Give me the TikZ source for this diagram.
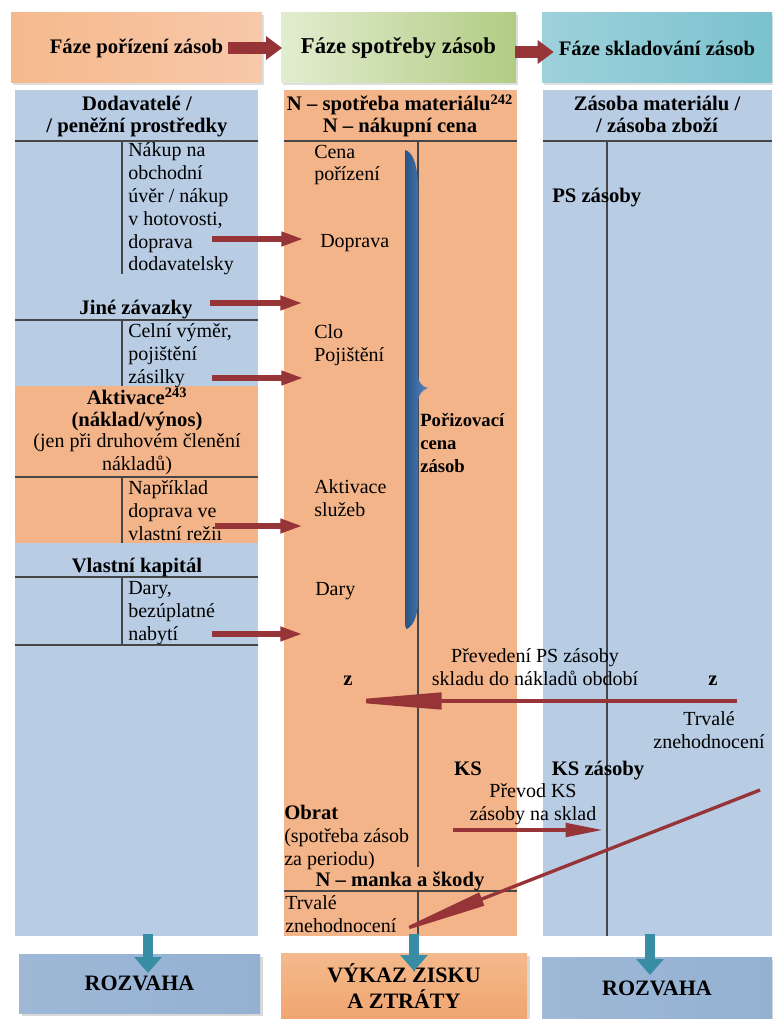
\documentclass[tikz,border=0pt]{standalone}
\usepackage{fontspec}
\setmainfont{Liberation Serif}
\usetikzlibrary{positioning,fit,shadows,arrows.meta}
\definecolor{pblue}{RGB}{184,204,228}
\definecolor{porange}{RGB}{243,180,138}
\definecolor{ared}{RGB}{150,52,56}
\definecolor{ateal}{RGB}{56,140,163}
\definecolor{lgrid}{RGB}{70,70,70}
\definecolor{ha}{RGB}{245,185,140}\definecolor{hb}{RGB}{252,228,214}\definecolor{hc}{RGB}{248,200,170}
\definecolor{ga}{RGB}{226,237,208}\definecolor{gb}{RGB}{214,229,190}\definecolor{gc}{RGB}{178,204,132}
\definecolor{ta}{RGB}{158,209,219}\definecolor{tb}{RGB}{218,238,243}\definecolor{tc}{RGB}{122,194,206}
\definecolor{ba}{RGB}{158,184,214}\definecolor{bb}{RGB}{220,230,240}\definecolor{bc}{RGB}{148,177,211}
\definecolor{oa}{RGB}{244,185,140}\definecolor{ob}{RGB}{233,142,80}\definecolor{oc}{RGB}{240,165,112}
\definecolor{ka}{RGB}{42,82,132}\definecolor{kb}{RGB}{86,134,192}
\tikzset{
  ph/.style={rectangle, inner sep=0pt, minimum height=52.5pt, font=\fontsize{15.5}{18}\selectfont\bfseries, drop shadow={opacity=.25, shadow xshift=1.5pt, shadow yshift=-1.5pt}},
  pn/.style={rectangle, inner sep=0pt, draw=none},
  tx/.style={anchor=base west, inner sep=0pt, align=left, font=\fontsize{15}{17.1}\selectfont},
  tm/.style={anchor=base, inner sep=0pt, align=center, font=\fontsize{15}{17.1}\selectfont},
  bd/.style={anchor=base, inner sep=0pt, align=center, font=\fontsize{15.5}{16.5}\selectfont\bfseries},
  ln/.style={draw=lgrid, line width=0.8pt},
  ar/.style={draw=ared, line width=4.5pt, -{Triangle[length=17pt,width=10pt]}},
  hr/.style={draw=ared, line width=9pt, -{Triangle[length=12pt,width=17pt]}},
  dn/.style={draw=ateal, line width=8pt, -{Triangle[length=12pt,width=20pt]}},
  rs/.style={rectangle, inner sep=0pt, align=center, font=\fontsize{16.5}{20}\selectfont\bfseries, drop shadow={opacity=.3, shadow xshift=2pt, shadow yshift=-2pt}}
}
\begin{document}
\begin{tikzpicture}[x=0.75pt, y=-0.75pt]
\useasboundingbox (0,0) rectangle (772,1019);
\node[ph, minimum width=188.25pt, left color=ha, middle color=hb, right color=hc] (h1) at (136.5,48) {Fáze pořízení zásob};
\node[ph, minimum width=176.25pt, font=\fontsize{17}{20}\selectfont\bfseries, left color=ga, middle color=gb, right color=gc] (h2) at (398.5,48) {Fáze spotřeby zásob};
\node[ph, minimum width=172.5pt, left color=ta, middle color=tb, right color=tc] (h3) at (657,48) {Fáze skladování zásob};
\path ([xshift=-25.5pt]h1.east) edge[hr] ([xshift=1pt]h2.west)
([xshift=-1pt,yshift=-3pt]h2.east) edge[hr] ([xshift=9pt,yshift=-3pt]h3.west);
\node[pn, fill=pblue, fit={(15,90) (258,936)}] (p1) {};
\node[pn, fill=porange, fit={(284,90) (517,936)}] (p2) {};
\node[pn, fill=pblue, fit={(543,90) (772,936)}] (p3) {};
\node[pn, fill=porange, fit={(15,386) (258,543)}] (p1a) {};
\draw[ln] (15,141) -- (258,141) (122,141) -- (122,274)
(15,320) -- (258,320) (122,320) -- (122,386)
(15,477) -- (258,477) (122,477) -- (122,543)
(15,577) -- (258,577) (122,577) -- (122,645) (15,645) -- (258,645);
\draw[ln] (284,141) -- (517,141) (418,141) -- (418,867) (418,892) -- (418,936) (284,891) -- (517,891);
\draw[ln] (543,141) -- (772,141) (607,141) -- (607,936);
\shade[left color=ka, right color=kb] (405,150) .. controls (413,152) and (418,165) .. (418,190) -- (418,372) .. controls (418,383) and (422,387) .. (428,388) .. controls (422,390) and (418,394) .. (418,405) -- (418,600) .. controls (418,615) and (414,625) .. (407,629) .. controls (405,629) and (405,625) .. (405,615) -- cycle;
\node[bd] (dod) at (137,133) {Dodavatelé /\\/ peněžní prostředky};
\node[tx] (nak) at (128,271) {Nákup na\\obchodní\\úvěr / nákup\\v hotovosti,\\doprava\\dodavatelsky};
\node[bd] (jin) at (136,315) {Jiné závazky};
\node[tx] (cel) at (128,383) {Celní výměr,\\pojištění\\zásilky};
\node[bd] (akt) at (137,426) {Aktivace\textsuperscript{243}\\(náklad/výnos)};
\node[tm] (jen) at (137,470) {(jen při druhovém členění\\nákladů)};
\node[tx] (nap) at (128,540) {Například\\doprava ve\\vlastní režii};
\node[bd] (vla) at (137,572) {Vlastní kapitál};
\node[tx] (dar) at (128,640) {Dary,\\bezúplatné\\nabytí};
\node[bd] (nsp) at (400,133) {N – spotřeba materiálu\textsuperscript{242}\\N – nákupní cena};
\node[tx] (cen) at (314,181) {Cena\\pořízení};
\node[tx] (dop) at (320,248) {Doprava};
\node[tx] (clo) at (314,361) {Clo\\Pojištění};
\node[tx] (aks) at (314,516) {Aktivace\\služeb};
\node[tx] (dry) at (315,595) {Dary};
\node[tx, font=\fontsize{14}{17}\selectfont\bfseries] (poc) at (420,472) {Pořizovací\\cena\\zásob};
\node[bd] (z1) at (348,685) {z};
\node[bd] (z2) at (713,685) {z};
\node[tm] (pre) at (535,685) {Převedení PS zásoby\\skladu do nákladů období};
\node[tm] (trv) at (709,748) {Trvalé\\znehodnocení};
\node[bd] (ks) at (468,775) {KS};
\node[bd] (ksz) at (598,775) {KS zásoby};
\node[tm] (prv) at (533,820) {Převod KS\\zásoby na sklad};
\node[tx] (obr) at (284,865) {{\bfseries\fontsize{15.5}{17}\selectfont Obrat}\\(spotřeba zásob\\za periodu)};
\node[bd] (nma) at (400,886) {N – manka a škody};
\node[tx] (trz) at (285,932) {Trvalé\\znehodnocení};
\node[bd] (zas) at (657,133) {Zásoba materiálu /\\/ zásoba zboží};
\node[bd, anchor=base west] (psz) at (552,203) {PS zásoby};
\coordinate (s1) at (212,239); \coordinate (e1) at (304,239);
\coordinate (s2) at (210,303); \coordinate (e2) at (303,303);
\coordinate (s3) at (212,378); \coordinate (e3) at (304,378);
\coordinate (s4) at (215,526); \coordinate (e4) at (303,526);
\coordinate (s5) at (212,634); \coordinate (e5) at (303,634);
\coordinate (ps) at (737,701); \coordinate (pe) at (335,701);
\coordinate (ks1) at (453,830); \coordinate (ks2) at (603,830);
\coordinate (ts) at (760,790); \coordinate (te) at (385,937);
\path (s1) edge[ar] (e1)
(s2) edge[ar] (e2)
(s3) edge[ar] (e3)
(s4) edge[ar] (e4)
(s5) edge[ar] (e5)
(ps) edge[ar, line width=3.5pt, -{Triangle[length=80pt,width=12pt]}] (pe)
(ks1) edge[ar, line width=3pt, -{Triangle[length=28pt,width=10pt]}] (ks2)
(ts) edge[ar, line width=2.5pt, -{Triangle[length=78pt,width=10pt]}] (te);
\node[rs, minimum width=180.75pt, minimum height=44.25pt, left color=ba, middle color=bb, right color=bc] (r1) at (139.5,983.5) {ROZVAHA};
\node[rs, minimum width=184.5pt, minimum height=49.5pt, top color=oa, middle color=ob, bottom color=oc] (r2) at (404,986) {VÝKAZ ZISKU\\A ZTRÁTY};
\node[rs, minimum width=172.5pt, minimum height=46.5pt, left color=ba, middle color=bb, right color=bc] (r3) at (657,988) {ROZVAHA};
\coordinate (d1) at (148,934); \coordinate (f1) at (148,973);
\coordinate (d2) at (414,934); \coordinate (f2) at (414,971);
\coordinate (d3) at (650,934); \coordinate (f3) at (650,975);
\path (d1) edge[dn] (f1)
(d2) edge[dn] (f2)
(d3) edge[dn] (f3);
\end{tikzpicture}
\end{document}
